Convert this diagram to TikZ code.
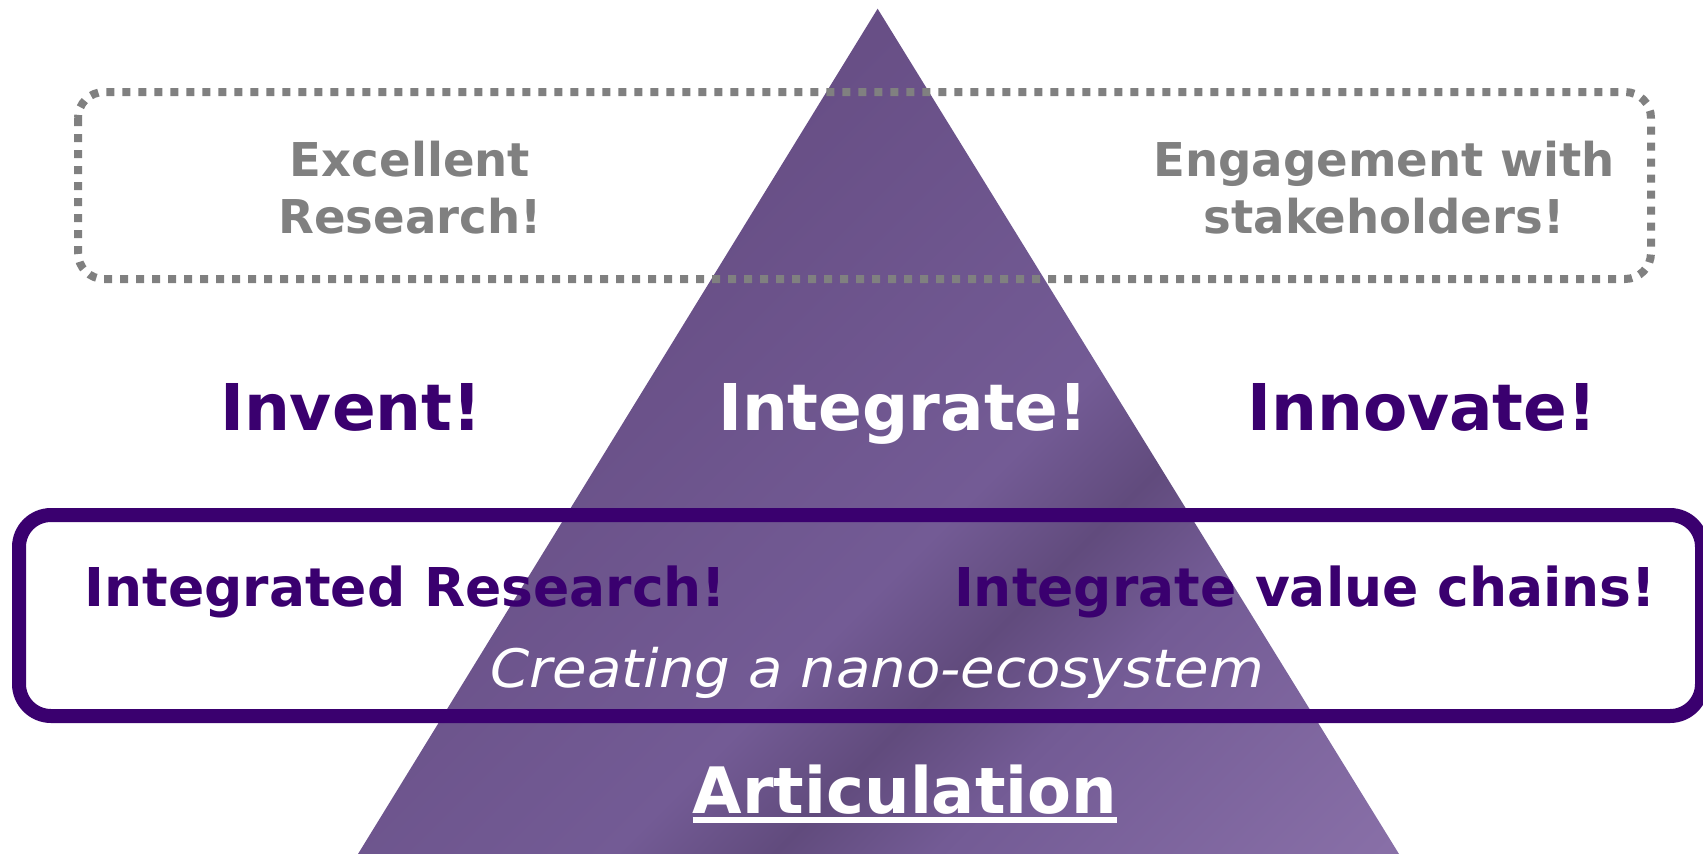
\documentclass[tikz,border=0pt]{standalone}
\usepackage{fontspec}
\setmainfont{DejaVu Sans}
\newfontfamily\ecofont{DejaVu Sans}[FakeStretch=1.06]
\usepackage{tikz}
\usetikzlibrary{positioning}
\definecolor{deep}{HTML}{3A006F}
\definecolor{dotgray}{HTML}{808080}
\definecolor{pyrA}{HTML}{684F86}
\definecolor{pyrB}{HTML}{735B95}
\definecolor{pyrC}{HTML}{614B7D}
\definecolor{pyrD}{HTML}{886FA7}
\pgfdeclarehorizontalshading{pyramid}{100bp}{color(0bp)=(pyrA); color(35bp)=(pyrA); color(56bp)=(pyrB); color(62bp)=(pyrC); color(68bp)=(pyrB); color(85bp)=(pyrD); color(100bp)=(pyrD)}

\begin{document}
\begin{tikzpicture}[inner sep=0pt, graytext/.style={text=dotgray, align=center, anchor=base, font=\fontsize{46.6pt}{57pt}\selectfont\bfseries}, big/.style={anchor=base, font=\fontsize{64.5pt}{70pt}\selectfont\bfseries}, mid/.style={text=deep, anchor=base, font=\fontsize{53.5pt}{60pt}\selectfont\bfseries}, dotbox/.style={dotgray, line width=8pt, dash pattern=on 8pt off 8pt, rounded corners=26pt}, chainbox/.style={deep, line width=14pt, rounded corners=32pt}]
\useasboundingbox (0pt, 0pt) rectangle (1703pt, -854pt);
\path[shading=pyramid, shading angle=-45] (877.6pt, -8.7pt)coordinate(top) -- (1399.0pt, -854.0pt)coordinate(br) -- (358.0pt, -854.0pt)coordinate(bl) -- cycle;
\draw[dotbox] (78.0pt, -92.0pt) rectangle (1651.0pt, -279.0pt);
\draw[chainbox] (19.0pt, -515.0pt) rectangle (1702.0pt, -716.0pt);
\draw (410.0pt, -233.0pt)node[graytext](0){Excellent\\Research!};
\draw (1384.0pt, -233.0pt)node[graytext](1){Engagement with\\stakeholders!};
\draw (351.0pt, -430.0pt)node[big, text=deep](2){Invent!};
\draw (903.0pt, -430.0pt)node[big, text=white](3){Integrate!};
\draw (1422.0pt, -430.0pt)node[big, text=deep](4){Innovate!};
\draw (405.5pt, -606.0pt)node[mid](5){Integrated Research!};
\draw (1305.0pt, -606.0pt)node[mid](6){Integrate value chains!};
\draw (877.0pt, -687.0pt)node[anchor=base, text=white, font=\fontsize{53pt}{60pt}\ecofont\itshape](7){Creating a nano-ecosystem};
\draw (905.0pt, -813.0pt)node[big, text=white, font=\fontsize{64pt}{70pt}\selectfont\bfseries](8){Articulation};
\draw[white, line width=6pt] ([yshift=-7pt]8.base west) -- ([yshift=-7pt]8.base east);
\end{tikzpicture}
\end{document}
